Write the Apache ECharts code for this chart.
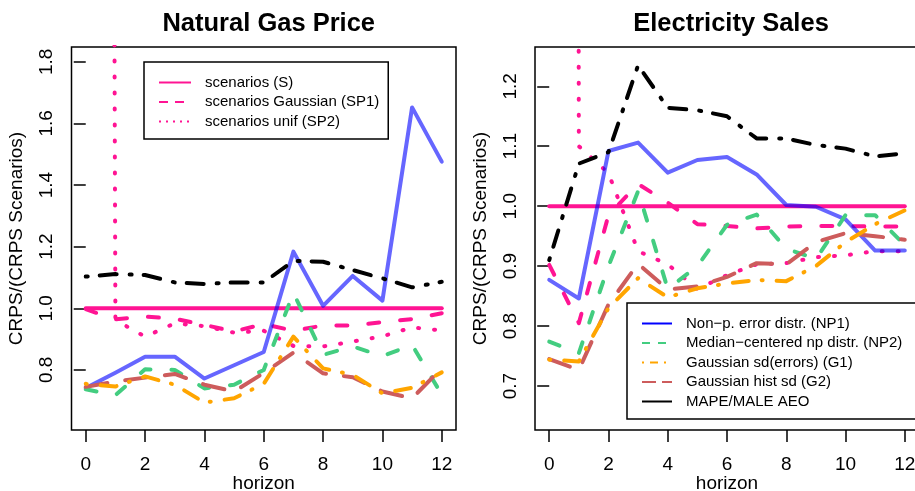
<!DOCTYPE html>
<html><head><meta charset="utf-8">
<script src="https://cdn.jsdelivr.net/npm/echarts@6/dist/echarts.min.js"></script>
<style>html,body{margin:0;padding:0;background:#fff}#c{width:915px;height:491px}</style>
</head><body><div id="c"></div>
<script>
// ---------- data ----------
const horizons = [0,1,2,3,4,5,6,7,8,9,10,11,12];
const xTicks = [0,2,4,6,8,10,12];
const gasYTicks = [0.8,1.0,1.2,1.4,1.6,1.8];
const elYTicks = [0.7,0.8,0.9,1.0,1.1,1.2];
const panelTitles = ['Natural Gas Price','Electricity Sales'];

// Natural Gas Price
const gasS    = [1,1,1,1,1,1,1,1,1,1,1,1,1];
const gasSP1  = [0.997,0.964,0.973,0.966,0.946,0.925,0.949,0.927,0.944,0.944,0.955,0.965,0.984];
const gasSP2  = [30,0.962,0.908,0.951,0.942,0.921,0.927,0.878,0.876,0.892,0.909,0.938,0.928];
const gasNP1  = [0.741,0.791,0.843,0.843,0.772,0.815,0.858,1.184,1.008,1.105,1.025,1.652,1.476];
const gasNP2  = [0.737,0.718,0.802,0.800,0.740,0.752,0.800,1.050,0.849,0.876,0.845,0.881,0.720];
const gasG1   = [0.755,0.746,0.779,0.752,0.694,0.708,0.755,0.908,0.805,0.784,0.724,0.742,0.792];
const gasG2   = [0.745,0.762,0.775,0.787,0.752,0.730,0.790,0.856,0.789,0.776,0.730,0.708,0.806];
const gasMAPE = [1.103,1.111,1.108,1.084,1.079,1.084,1.084,1.154,1.151,1.124,1.097,1.068,1.086];

// Electricity Sales
const elS    = [1,1,1,1,1,1,1,1,1,1,1,1,1];
const elSP1  = [0.902,0.805,0.985,1.037,1.006,0.970,0.967,0.963,0.966,0.967,0.967,0.966,0.966];
const elSP2  = [30,1.100,1.055,0.925,0.903,0.862,0.885,0.903,0.905,0.915,0.918,0.925,0.925];
const elNP1  = [0.877,0.846,1.092,1.106,1.056,1.077,1.082,1.053,1.002,0.999,0.978,0.926,0.926];
const elNP2  = [0.774,0.755,0.900,1.025,0.862,0.900,0.969,0.986,0.929,0.912,0.985,0.985,0.935];
const elG1   = [0.744,0.741,0.830,0.880,0.848,0.863,0.871,0.877,0.875,0.900,0.940,0.970,0.993];
const elG2   = [0.745,0.727,0.836,0.904,0.861,0.866,0.882,0.905,0.903,0.940,0.955,0.950,0.944];
const elMAPE = [0.910,1.071,1.090,1.235,1.164,1.160,1.150,1.113,1.113,1.102,1.096,1.083,1.088];

const names = {
  S:'scenarios (S)', SP1:'scenarios Gaussian (SP1)', SP2:'scenarios unif (SP2)',
  NP1:'Non\u2212p. error distr. (NP1)', NP2:'Median\u2212centered np distr. (NP2)',
  G1:'Gaussian sd(errors) (G1)', G2:'Gaussian hist sd (G2)', MAPE:'MAPE/MALE AEO'
};
const panels = [
  {S:gasS,SP1:gasSP1,SP2:gasSP2,NP1:gasNP1,NP2:gasNP2,G1:gasG1,G2:gasG2,MAPE:gasMAPE},
  {S:elS,SP1:elSP1,SP2:elSP2,NP1:elNP1,NP2:elNP2,G1:elG1,G2:elG2,MAPE:elMAPE}
];

// ---------- styles ----------
const FONT = '"Liberation Sans", Arial, Helvetica, sans-serif';
const PINK='#FF1493', BLUE='rgba(0,0,255,0.6)', GREEN='#43CD80', ORANGE='#FFA500', BROWN='#CD5C5C', BLACK='#000000';
const plotStyle = {
  S:{color:PINK,type:'solid'}, SP1:{color:PINK,type:[11,21]}, SP2:{color:PINK,type:[1,15]},
  NP1:{color:BLUE,type:'solid'}, NP2:{color:GREEN,type:[11,21]},
  G1:{color:ORANGE,type:[1,14,16,13]}, G2:{color:BROWN,type:[22,18]},
  MAPE:{color:BLACK,type:[2,12,17,13]}
};
const legendStyle = {
  S:{color:PINK,type:'solid'}, SP1:{color:PINK,type:[9,7]}, SP2:{color:PINK,type:[2,5]},
  NP1:{color:'#0000FF',type:'solid'}, NP2:{color:GREEN,type:[8,8]},
  G1:{color:ORANGE,type:[2,6,8,6]}, G2:{color:BROWN,type:[14,6]},
  MAPE:{color:BLACK,type:'solid'}
};
const order = ['S','SP1','SP2','NP1','NP2','G2','G1','MAPE'];

const grids = [
  {left:71.5, top:47, width:384.5, height:383},
  {left:535, top:47, width:384, height:383}
];
const yRanges = [[0.605,1.848],[0.6267,1.2655]];
const yTicks = [gasYTicks, elYTicks];

const series = [];
panels.forEach((p,pi)=>{
  order.forEach(k=>{
    series.push({
      type:'line', name:names[k], xAxisIndex:pi, yAxisIndex:pi,
      data: horizons.map((h,i)=>[h,p[k][i]]),
      symbol:'none', showSymbol:false, silent:true, clip:true, animation:false,
      lineStyle:{color:plotStyle[k].color, type:plotStyle[k].type, width:4, cap:'round', join:'round'},
      itemStyle:{color:plotStyle[k].color}
    });
  });
});

function legendData(keys){
  return keys.map(k=>({name:names[k],
    lineStyle:{color:legendStyle[k].color, type:legendStyle[k].type, width:2, cap:'butt'},
    itemStyle:{color:'rgba(0,0,0,0)', borderWidth:0, opacity:0}}));
}
const legendCommon = {
  orient:'vertical', itemWidth:32, itemHeight:14, itemGap:4.5,
  borderColor:'#000', borderWidth:1.5, backgroundColor:'#fff', selectedMode:false,
  textStyle:{fontSize:15, lineHeight:14, fontFamily:FONT, color:'#000', padding:[0,0,0,9]}
};

const option = {
  backgroundColor:'#fff', animation:false,
  title: panelTitles.map((t,i)=>({
    text:t, left: grids[i].left + grids[i].width/2 - (i===1?1:0), top:6, textAlign:'center',
    textStyle:{fontSize:25.5, fontWeight:'bold', fontFamily:FONT, color:'#000'}
  })),
  grid: grids.map(g=>Object.assign({show:true, borderColor:'#000', borderWidth:1.5, backgroundColor:'transparent', containLabel:false, outerBoundsMode:'none'}, g)),
  xAxis: [0,1].map(i=>({
    gridIndex:i, type:'value', min:-0.48, max:12.48,
    axisLine:{show:false},
    axisTick:{show:true, customValues:xTicks, length:12, lineStyle:{color:'#000', width:1.5}},
    axisLabel:{customValues:xTicks, fontSize:19, color:'#000', fontFamily:FONT, margin:25},
    splitLine:{show:false},
    name:'horizon', nameLocation:'middle', nameGap:44, nameMoveOverlap:false,
    nameTextStyle:{fontSize:19, color:'#000', fontFamily:FONT}
  })),
  yAxis: [0,1].map(i=>({
    gridIndex:i, type:'value', min:yRanges[i][0], max:yRanges[i][1],
    axisLine:{show:false},
    axisTick:{show:true, customValues:yTicks[i], length:12, lineStyle:{color:'#000', width:1.5}},
    axisLabel:{customValues:yTicks[i], rotate:90, fontSize:19, color:'#000', fontFamily:FONT, margin:15,
      formatter:v=>Number(v).toFixed(1)},
    splitLine:{show:false},
    name:'CRPS/(CRPS Scenarios)', nameLocation:'middle', nameGap:45, nameRotate:90, nameMoveOverlap:false,
    nameTextStyle:{fontSize:19, color:'#000', fontFamily:FONT}
  })),
  legend: [
    Object.assign({}, legendCommon, {left:144, top:62, padding:[13,9,10,14], data:legendData(['S','SP1','SP2'])}),
    Object.assign({}, legendCommon, {left:627, top:303, itemWidth:30, padding:[13,20,10,14], data:legendData(['NP1','NP2','G1','G2','MAPE'])})
  ],
  series
};
const chart = echarts.init(document.getElementById('c'), null, {renderer:'canvas'});
chart.setOption(option);
</script></body></html>
